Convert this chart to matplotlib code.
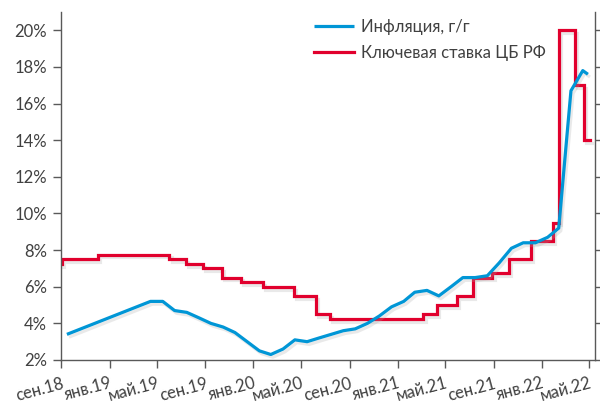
import matplotlib
matplotlib.use('Agg')
import matplotlib.pyplot as plt
import matplotlib.patheffects as pe
import numpy as np
import datetime as dt

plt.rcParams['font.family'] = ['Lato', 'DejaVu Sans']

# Inflation y/y, month-end points
infl_dates = ['2018-09-30', '2019-04-30', '2019-05-31', '2019-06-30', '2019-07-31',
              '2019-08-31', '2019-09-30', '2019-10-31', '2019-11-30', '2019-12-31',
              '2020-01-31', '2020-02-29', '2020-03-31', '2020-04-30', '2020-05-31',
              '2020-06-30', '2020-07-31', '2020-08-31', '2020-09-30', '2020-10-31',
              '2020-11-30', '2020-12-31', '2021-01-31', '2021-02-28', '2021-03-31',
              '2021-04-30', '2021-05-31', '2021-06-30', '2021-07-31', '2021-08-31',
              '2021-09-30', '2021-10-31', '2021-11-30', '2021-12-31', '2022-01-31',
              '2022-02-28', '2022-03-31', '2022-04-30', '2022-05-13']
infl_vals = [3.4, 5.2, 5.2, 4.7, 4.6,
             4.3, 4.0, 3.8, 3.5, 3.0,
             2.5, 2.3, 2.6, 3.1, 3.0,
             3.2, 3.4, 3.6, 3.7, 4.0,
             4.4, 4.9, 5.2, 5.7, 5.8,
             5.5, 6.0, 6.5, 6.5, 6.6,
             7.3, 8.1, 8.4, 8.4, 8.7,
             9.2, 16.7, 17.8, 17.6]

# CBR key rate, change dates
rate_dates = ['2018-09-15', '2018-09-17', '2018-12-17', '2019-06-17', '2019-07-29',
              '2019-09-09', '2019-10-28', '2019-12-16', '2020-02-10', '2020-04-27',
              '2020-06-22', '2020-07-27', '2021-03-22', '2021-04-26', '2021-06-15',
              '2021-07-26', '2021-09-13', '2021-10-25', '2021-12-20', '2022-02-14',
              '2022-02-28', '2022-04-11', '2022-05-04', '2022-05-18']
rate_vals = [7.25, 7.5, 7.75, 7.5, 7.25,
             7.0, 6.5, 6.25, 6.0, 5.5,
             4.5, 4.25, 4.5, 5.0, 5.5,
             6.5, 6.75, 7.5, 8.5, 9.5,
             20.0, 17.0, 14.0, 14.0]

tick_dates = ['2018-09-16', '2019-01-16', '2019-05-16', '2019-09-16', '2020-01-16',
              '2020-05-16', '2020-09-16', '2021-01-16', '2021-05-16', '2021-09-16',
              '2022-01-16', '2022-05-16']
tick_labels = ['сен.18', 'янв.19', 'май.19', 'сен.19', 'янв.20', 'май.20',
               'сен.20', 'янв.21', 'май.21', 'сен.21', 'янв.22', 'май.22']

def to_dt(lst):
    return [dt.datetime.strptime(s, '%Y-%m-%d') for s in lst]

blue = '#0096D6'
red = '#E1002D'
txt = '#404040'
axc = '#595959'

fig = plt.figure(figsize=(6, 4.05), dpi=100)
ax = fig.add_axes([61/600, 45/405, 534/600, 348/405])

shadow = [pe.SimpleLineShadow(offset=(1.5, -2), shadow_color='#aaaaaa', alpha=0.25),
          pe.Normal()]

ax.plot(to_dt(infl_dates), infl_vals, color=blue, lw=2.3, solid_joinstyle='round',
        solid_capstyle='butt', label='Инфляция, г/г', path_effects=shadow, zorder=3)
ax.plot(to_dt(rate_dates), rate_vals, color=red, lw=2.3, drawstyle='steps-post',
        solid_joinstyle='miter', label='Ключевая ставка ЦБ РФ', path_effects=shadow, zorder=2)

ax.set_ylim(2, 21)
ax.set_yticks(np.arange(2, 21, 2))
ax.set_yticklabels(['{}%'.format(v) for v in range(2, 21, 2)])
ax.set_xlim(dt.datetime(2018, 9, 15), dt.datetime(2022, 5, 31))
ax.set_xticks(to_dt(tick_dates))
ax.set_xticklabels(tick_labels, rotation=15, ha='right', rotation_mode='anchor')

ax.spines['top'].set_visible(False)
for s in ['left', 'bottom', 'right']:
    ax.spines[s].set_color(axc)
    ax.spines[s].set_linewidth(1.0)
ax.tick_params(axis='both', colors=axc, labelcolor=txt, labelsize=12, length=6, width=1.0)
ax.tick_params(axis='y', right=True, pad=4)
ax.tick_params(axis='x', pad=5)

leg = ax.legend(loc='upper left', bbox_to_anchor=(0.47, 0.985), frameon=False,
                fontsize=12, handlelength=2.4, handletextpad=0.45, labelspacing=0.6,
                borderpad=0.1, borderaxespad=0)
for t in leg.get_texts():
    t.set_color(txt)
for l in leg.get_lines():
    l.set_linewidth(2.3)
    l.set_path_effects([])

fig.savefig('out.png', dpi=100)
